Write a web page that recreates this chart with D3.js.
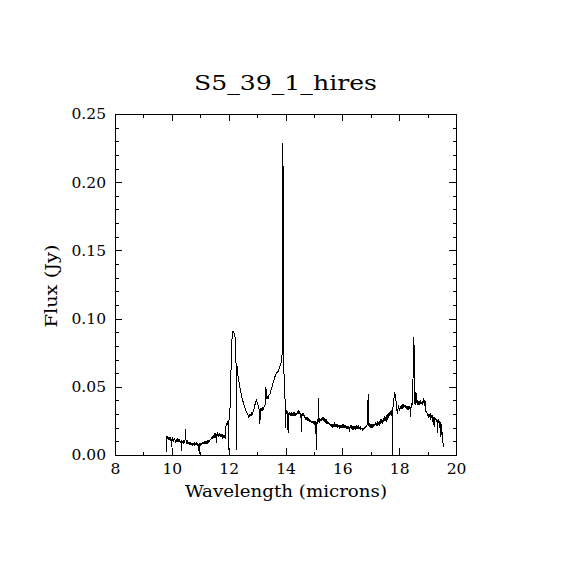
<!DOCTYPE html>
<html>
<head>
<meta charset="utf-8">
<script src="https://cdn.jsdelivr.net/npm/d3@7"></script>
<style>
  body { margin: 0; background: #fff; }
  text { font-family: "DejaVu Serif", serif; fill: #000; }
</style>
</head>
<body>
<script>
// spectrum: wavelength (microns) and flux (Jy)
const wavelength = [
  9.82, 9.83, 9.85, 9.87, 9.89, 9.91, 9.93, 9.95, 9.97, 9.98, 9.99,
  10.01, 10.03, 10.05, 10.07, 10.09, 10.11, 10.13, 10.15, 10.17, 10.19,
  10.21, 10.23, 10.25, 10.27, 10.29, 10.31, 10.33, 10.35, 10.36, 10.38,
  10.40, 10.42, 10.44, 10.46, 10.48, 10.49, 10.51, 10.53, 10.55, 10.57,
  10.59, 10.61, 10.63, 10.65, 10.67, 10.69, 10.71, 10.73, 10.75, 10.77,
  10.79, 10.81, 10.83, 10.85, 10.87, 10.89, 10.91, 10.93, 10.95, 10.96,
  10.97, 10.99, 11.01, 11.03, 11.05, 11.07, 11.09, 11.11, 11.13, 11.15,
  11.17, 11.19, 11.21, 11.23, 11.25, 11.27, 11.29, 11.31, 11.33, 11.35,
  11.37, 11.39, 11.41, 11.43, 11.45, 11.47, 11.49, 11.51, 11.53, 11.55,
  11.57, 11.58, 11.60, 11.62, 11.64, 11.66, 11.68, 11.70, 11.72, 11.74,
  11.76, 11.78, 11.80, 11.82, 11.84, 11.86, 11.88, 11.90, 11.92, 11.94,
  11.96, 11.98, 11.99, 12.00, 12.02, 12.04, 12.06, 12.08, 12.10, 12.12,
  12.14, 12.16, 12.18, 12.20, 12.22, 12.24, 12.26, 12.27, 12.28, 12.29,
  12.31, 12.33, 12.35, 12.38, 12.41, 12.44, 12.47, 12.50, 12.53, 12.56,
  12.59, 12.62, 12.65, 12.68, 12.70, 12.72, 12.74, 12.76, 12.78, 12.80,
  12.82, 12.84, 12.86, 12.88, 12.90, 12.92, 12.94, 12.96, 12.98, 13.00,
  13.02, 13.04, 13.06, 13.08, 13.10, 13.11, 13.13, 13.15, 13.17, 13.19,
  13.21, 13.23, 13.25, 13.27, 13.29, 13.31, 13.33, 13.35, 13.37, 13.39,
  13.41, 13.43, 13.45, 13.47, 13.49, 13.51, 13.53, 13.55, 13.57, 13.59,
  13.61, 13.63, 13.65, 13.67, 13.69, 13.71, 13.73, 13.75, 13.77, 13.79,
  13.81, 13.83, 13.85, 13.87, 13.89, 13.90, 13.91, 13.92, 13.94, 13.96,
  13.98, 14.00, 14.01, 14.02, 14.04, 14.06, 14.08, 14.09, 14.10, 14.12,
  14.14, 14.16, 14.18, 14.20, 14.22, 14.24, 14.26, 14.28, 14.30, 14.32,
  14.34, 14.36, 14.38, 14.40, 14.42, 14.44, 14.46, 14.48, 14.50, 14.52,
  14.54, 14.56, 14.57, 14.59, 14.61, 14.63, 14.65, 14.67, 14.69, 14.71,
  14.73, 14.75, 14.77, 14.79, 14.81, 14.83, 14.85, 14.87, 14.89, 14.91,
  14.93, 14.95, 14.97, 14.99, 15.01, 15.03, 15.05, 15.07, 15.08, 15.09,
  15.11, 15.13, 15.15, 15.17, 15.18, 15.20, 15.22, 15.24, 15.26, 15.28,
  15.30, 15.32, 15.34, 15.36, 15.38, 15.40, 15.42, 15.44, 15.46, 15.48,
  15.50, 15.52, 15.54, 15.56, 15.58, 15.60, 15.62, 15.64, 15.66, 15.68,
  15.70, 15.72, 15.74, 15.76, 15.78, 15.80, 15.82, 15.84, 15.86, 15.88,
  15.90, 15.92, 15.94, 15.96, 15.98, 16.00, 16.02, 16.04, 16.06, 16.08,
  16.10, 16.12, 16.14, 16.16, 16.18, 16.20, 16.22, 16.24, 16.26, 16.27,
  16.29, 16.31, 16.33, 16.35, 16.37, 16.39, 16.41, 16.43, 16.45, 16.47,
  16.49, 16.51, 16.53, 16.55, 16.57, 16.59, 16.61, 16.63, 16.65, 16.67,
  16.69, 16.71, 16.73, 16.75, 16.77, 16.79, 16.81, 16.83, 16.85, 16.87,
  16.89, 16.91, 16.92, 16.94, 16.96, 16.98, 17.00, 17.02, 17.04, 17.06,
  17.08, 17.10, 17.12, 17.14, 17.16, 17.18, 17.20, 17.22, 17.24, 17.26,
  17.28, 17.30, 17.32, 17.34, 17.36, 17.38, 17.40, 17.42, 17.44, 17.46,
  17.48, 17.50, 17.52, 17.54, 17.56, 17.58, 17.60, 17.62, 17.64, 17.66,
  17.68, 17.70, 17.72, 17.74, 17.76, 17.77, 17.78, 17.80, 17.82, 17.84,
  17.86, 17.88, 17.90, 17.92, 17.94, 17.96, 17.98, 18.00, 18.02, 18.04,
  18.06, 18.08, 18.10, 18.12, 18.14, 18.16, 18.18, 18.20, 18.22, 18.24,
  18.26, 18.28, 18.30, 18.32, 18.34, 18.36, 18.38, 18.40, 18.42, 18.44,
  18.46, 18.48, 18.50, 18.52, 18.53, 18.55, 18.57, 18.59, 18.61, 18.63,
  18.65, 18.67, 18.69, 18.71, 18.73, 18.75, 18.77, 18.79, 18.81, 18.83,
  18.85, 18.87, 18.89, 18.91, 18.93, 18.95, 18.97, 18.99, 19.01, 19.03,
  19.05, 19.07, 19.09, 19.11, 19.13, 19.15, 19.17, 19.19, 19.21, 19.23,
  19.25, 19.27, 19.29, 19.31, 19.33, 19.35, 19.37, 19.39, 19.41, 19.43,
  19.45, 19.47, 19.49, 19.51, 19.53, 19.55
];
const flux = [
  0.0025, 0.0140, 0.0118, 0.0132, 0.0110, 0.0125, 0.0112, 0.0128, 0.0105, 0.0060, 0.0120,
  0.0108, 0.0122, 0.0113, 0.0102, 0.0118, 0.0110, 0.0098, 0.0112, 0.0104, 0.0115,
  0.0100, 0.0108, 0.0096, 0.0110, 0.0102, 0.0094, 0.0106, 0.0030, 0.0098, 0.0092,
  0.0103, 0.0090, 0.0098, 0.0088, 0.0190, 0.0120, 0.0094, 0.0086, 0.0098, 0.0084,
  0.0092, 0.0080, 0.0090, 0.0082, 0.0094, 0.0078, 0.0088, 0.0076, 0.0086, 0.0080,
  0.0090, 0.0074, 0.0084, 0.0078, 0.0088, 0.0072, 0.0082, 0.0076, 0.0070, 0.0005,
  0.0080, 0.0086, 0.0076, 0.0088, 0.0080, 0.0092, 0.0082, 0.0090, 0.0080, 0.0094,
  0.0086, 0.0096, 0.0088, 0.0098, 0.0092, 0.0104, 0.0096, 0.0108, 0.0102, 0.0116,
  0.0110, 0.0124, 0.0118, 0.0132, 0.0126, 0.0140, 0.0132, 0.0150, 0.0138, 0.0158,
  0.0090, 0.0146, 0.0160, 0.0142, 0.0156, 0.0136, 0.0150, 0.0134, 0.0148, 0.0130,
  0.0146, 0.0132, 0.0150, 0.0128, 0.0144, 0.0136, 0.0120, 0.0200, 0.0235, 0.0215,
  0.0250, 0.0230, 0.0040, 0.0245, 0.0262, 0.0300, 0.0420, 0.0600, 0.0760, 0.0860,
  0.0905, 0.0895, 0.0902, 0.0885, 0.0880, 0.0800, 0.0660, 0.0500, 0.0040, 0.0660,
  0.0620, 0.0580, 0.0550, 0.0515, 0.0480, 0.0450, 0.0420, 0.0395, 0.0375, 0.0350,
  0.0335, 0.0318, 0.0305, 0.0295, 0.0282, 0.0298, 0.0276, 0.0290, 0.0300, 0.0292,
  0.0310, 0.0302, 0.0320, 0.0330, 0.0345, 0.0365, 0.0380, 0.0395, 0.0410, 0.0385,
  0.0370, 0.0360, 0.0345, 0.0330, 0.0225, 0.0335, 0.0342, 0.0330, 0.0345, 0.0335,
  0.0350, 0.0340, 0.0355, 0.0362, 0.0378, 0.0500, 0.0420, 0.0410, 0.0425, 0.0418,
  0.0435, 0.0445, 0.0440, 0.0460, 0.0475, 0.0488, 0.0505, 0.0520, 0.0535, 0.0548,
  0.0560, 0.0575, 0.0582, 0.0595, 0.0600, 0.0612, 0.0605, 0.0620, 0.0628, 0.0640,
  0.0652, 0.0665, 0.0680, 0.0720, 0.0750, 0.1550, 0.2290, 0.1550, 0.0650, 0.0500,
  0.0420, 0.0350, 0.0195, 0.0330, 0.0305, 0.0320, 0.0300, 0.0165, 0.0310, 0.0298,
  0.0318, 0.0290, 0.0305, 0.0286, 0.0312, 0.0296, 0.0308, 0.0290, 0.0315, 0.0295,
  0.0305, 0.0288, 0.0310, 0.0292, 0.0320, 0.0298, 0.0330, 0.0305, 0.0318, 0.0296,
  0.0310, 0.0170, 0.0300, 0.0285, 0.0310, 0.0290, 0.0296, 0.0280, 0.0275, 0.0262,
  0.0278, 0.0255, 0.0268, 0.0250, 0.0262, 0.0245, 0.0258, 0.0240, 0.0255, 0.0236,
  0.0252, 0.0232, 0.0248, 0.0230, 0.0250, 0.0228, 0.0240, 0.0225, 0.0040, 0.0240,
  0.0232, 0.0260, 0.0245, 0.0420, 0.0260, 0.0235, 0.0262, 0.0248, 0.0270, 0.0255,
  0.0262, 0.0275, 0.0258, 0.0268, 0.0250, 0.0258, 0.0240, 0.0250, 0.0232, 0.0242,
  0.0228, 0.0236, 0.0222, 0.0230, 0.0218, 0.0228, 0.0214, 0.0224, 0.0210, 0.0222,
  0.0212, 0.0226, 0.0208, 0.0220, 0.0210, 0.0218, 0.0205, 0.0222, 0.0210, 0.0216,
  0.0202, 0.0220, 0.0206, 0.0214, 0.0200, 0.0225, 0.0205, 0.0215, 0.0198, 0.0212,
  0.0200, 0.0218, 0.0195, 0.0208, 0.0198, 0.0215, 0.0190, 0.0205, 0.0170, 0.0200,
  0.0212, 0.0196, 0.0210, 0.0192, 0.0206, 0.0195, 0.0212, 0.0198, 0.0208, 0.0194,
  0.0210, 0.0196, 0.0204, 0.0190, 0.0208, 0.0194, 0.0200, 0.0188, 0.0205, 0.0192,
  0.0198, 0.0186, 0.0196, 0.0190, 0.0200, 0.0195, 0.0205, 0.0200, 0.0215, 0.0220,
  0.0300, 0.0450, 0.0260, 0.0210, 0.0222, 0.0205, 0.0218, 0.0200, 0.0222, 0.0210,
  0.0230, 0.0205, 0.0225, 0.0215, 0.0240, 0.0218, 0.0232, 0.0212, 0.0245, 0.0225,
  0.0238, 0.0215, 0.0250, 0.0230, 0.0262, 0.0235, 0.0255, 0.0225, 0.0270, 0.0240,
  0.0285, 0.0250, 0.0275, 0.0245, 0.0290, 0.0255, 0.0300, 0.0270, 0.0310, 0.0285,
  0.0320, 0.0290, 0.0330, 0.0300, 0.0270, 0.0000, 0.0340, 0.0390, 0.0420, 0.0460,
  0.0440, 0.0415, 0.0370, 0.0330, 0.0300, 0.0340, 0.0365, 0.0340, 0.0330, 0.0360,
  0.0345, 0.0355, 0.0338, 0.0360, 0.0348, 0.0365, 0.0350, 0.0368, 0.0352, 0.0360,
  0.0345, 0.0355, 0.0338, 0.0350, 0.0328, 0.0352, 0.0345, 0.0280, 0.0360, 0.0380,
  0.0365, 0.0420, 0.0790, 0.0868, 0.0620, 0.0380, 0.0370, 0.0464, 0.0380, 0.0400,
  0.0370, 0.0395, 0.0375, 0.0385, 0.0365, 0.0400, 0.0375, 0.0390, 0.0370, 0.0395,
  0.0380, 0.0416, 0.0360, 0.0395, 0.0340, 0.0306, 0.0320, 0.0290, 0.0310, 0.0269,
  0.0300, 0.0280, 0.0305, 0.0260, 0.0290, 0.0270, 0.0295, 0.0240, 0.0280, 0.0208,
  0.0275, 0.0255, 0.0270, 0.0240, 0.0265, 0.0159, 0.0262, 0.0235, 0.0250, 0.0200,
  0.0245, 0.0134, 0.0230, 0.0160, 0.0134, 0.0060
];

const title = "S5_39_1_hires";
const xLabel = "Wavelength (microns)";
const yLabel = "Flux (Jy)";
const xMajor = [8, 10, 12, 14, 16, 18, 20];
const xMinor = [9, 11, 13, 15, 17, 19];
const yMajor = [0, 0.05, 0.10, 0.15, 0.20, 0.25];
const yMinor = [0.01, 0.02, 0.03, 0.04, 0.06, 0.07, 0.08, 0.09, 0.11, 0.12, 0.13, 0.14,
                0.16, 0.17, 0.18, 0.19, 0.21, 0.22, 0.23, 0.24];

const W = 570, H = 570;
const padL = 115, padR = 456, padT = 114, padB = 455;

const svg = d3.select("body").append("svg")
  .attr("width", W).attr("height", H);

const x = d3.scaleLinear().domain([8, 20]).range([padL, padR]);
const y = d3.scaleLinear().domain([0, 0.25]).range([padB, padT]);

// ticks on all four sides, pointing inward
function tickAxis(axisFn, scale, vals, len, pos, fmt) {
  const a = axisFn(scale).tickValues(vals).tickSizeInner(len).tickSizeOuter(0);
  if (fmt) a.tickFormat(fmt);
  else a.tickFormat("");
  const g = svg.append("g").attr("transform", pos).call(a);
  g.select(".domain").remove();
  g.selectAll("line").attr("stroke", "#000").attr("shape-rendering", "crispEdges");
  return g;
}

const gxb = tickAxis(d3.axisBottom, x, xMajor, -7, `translate(0,${padB})`, d3.format("d"));
gxb.selectAll("text").attr("y", 8).attr("font-size", 15.5);
tickAxis(d3.axisBottom, x, xMinor, -3.5, `translate(0,${padB})`);
tickAxis(d3.axisTop, x, xMajor, -7, `translate(0,${padT})`);
tickAxis(d3.axisTop, x, xMinor, -3.5, `translate(0,${padT})`);

const gyl = tickAxis(d3.axisLeft, y, yMajor, -7, `translate(${padL},0)`, d3.format(".2f"));
gyl.selectAll("text").attr("x", -9).attr("font-size", 15.5);
tickAxis(d3.axisLeft, y, yMinor, -3.5, `translate(${padL},0)`);
tickAxis(d3.axisRight, y, yMajor, -7, `translate(${padR},0)`);
tickAxis(d3.axisRight, y, yMinor, -3.5, `translate(${padR},0)`);

svg.append("rect")
  .attr("x", padL).attr("y", padT)
  .attr("width", padR - padL).attr("height", padB - padT)
  .attr("fill", "none").attr("stroke", "#000").attr("shape-rendering", "crispEdges");

const line = d3.line().x((d, i) => x(wavelength[i])).y(d => y(d));
svg.append("path")
  .datum(flux)
  .attr("d", line)
  .attr("fill", "none")
  .attr("stroke", "#000")
  .attr("stroke-width", 1)
  .attr("shape-rendering", "crispEdges");

svg.append("text")
  .attr("x", (padL + padR) / 2).attr("y", 90)
  .attr("text-anchor", "middle").attr("font-size", 21)
  .attr("textLength", 183).attr("lengthAdjust", "spacingAndGlyphs")
  .text(title);

svg.append("text")
  .attr("x", 286).attr("y", 497)
  .attr("text-anchor", "middle").attr("font-size", 16)
  .attr("textLength", 202).attr("lengthAdjust", "spacingAndGlyphs")
  .text(xLabel);

svg.append("text")
  .attr("transform", `translate(57,286) rotate(-90)`)
  .attr("text-anchor", "middle").attr("font-size", 16)
  .attr("textLength", 83).attr("lengthAdjust", "spacingAndGlyphs")
  .text(yLabel);
</script>
</body>
</html>
